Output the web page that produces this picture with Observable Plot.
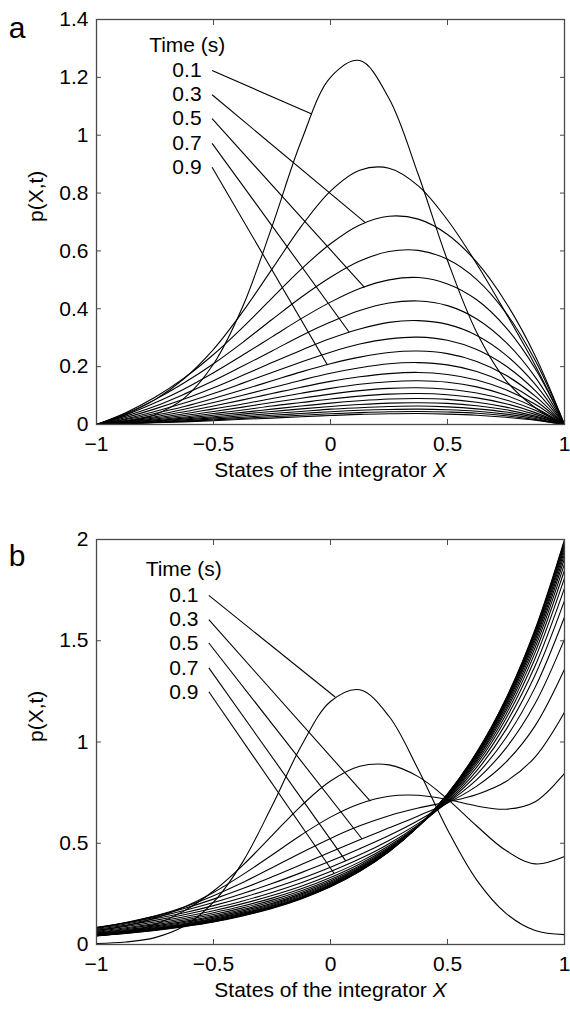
<!DOCTYPE html>
<html>
<head>
<meta charset="utf-8">
<script src="https://cdn.jsdelivr.net/npm/d3@7"></script>
<script src="https://cdn.jsdelivr.net/npm/@observablehq/plot@0.6"></script>
<style>
  html, body { margin: 0; padding: 0; background: #fff; }
  #chart { width: 570px; }
  #chart svg { display: block; }
</style>
</head>
<body>
<div id="chart"></div>
<script>
// States of the integrator X at which each density curve is sampled
const xs = [-1, -0.875, -0.75, -0.625, -0.5, -0.375, -0.25, -0.125, 0,
            0.125, 0.25, 0.375, 0.5, 0.625, 0.75, 0.875, 1];

// Time (s) of each curve
const times = [0.1, 0.2, 0.3, 0.4, 0.5, 0.6, 0.7, 0.8, 0.9, 1.0,
               1.1, 1.2, 1.3, 1.4, 1.5, 1.6, 1.7, 1.8, 1.9, 2.0];

// Panel a: p(X,t), one row per time
const densityA = [
  [0, 0.010, 0.034, 0.091, 0.209, 0.408, 0.684, 0.980, 1.200, 1.258, 1.127, 0.864, 0.567, 0.318, 0.152, 0.058, 0],
  [0, 0.035, 0.086, 0.159, 0.260, 0.390, 0.537, 0.685, 0.807, 0.879, 0.886, 0.825, 0.707, 0.555, 0.384, 0.204, 0],
  [0, 0.041, 0.094, 0.161, 0.242, 0.336, 0.437, 0.537, 0.625, 0.690, 0.720, 0.710, 0.657, 0.561, 0.421, 0.237, 0],
  [0, 0.038, 0.086, 0.144, 0.210, 0.284, 0.363, 0.440, 0.509, 0.565, 0.598, 0.602, 0.571, 0.501, 0.386, 0.221, 0],
  [0, 0.033, 0.075, 0.123, 0.179, 0.240, 0.303, 0.366, 0.423, 0.470, 0.500, 0.508, 0.486, 0.431, 0.335, 0.193, 0],
  [0, 0.029, 0.063, 0.105, 0.151, 0.202, 0.254, 0.307, 0.354, 0.394, 0.420, 0.427, 0.411, 0.365, 0.284, 0.164, 0],
  [0, 0.024, 0.054, 0.088, 0.127, 0.170, 0.214, 0.257, 0.297, 0.330, 0.353, 0.359, 0.346, 0.308, 0.240, 0.139, 0],
  [0, 0.020, 0.045, 0.074, 0.107, 0.143, 0.180, 0.216, 0.250, 0.278, 0.296, 0.302, 0.291, 0.259, 0.202, 0.117, 0],
  [0, 0.017, 0.038, 0.062, 0.090, 0.120, 0.151, 0.182, 0.210, 0.233, 0.249, 0.254, 0.245, 0.218, 0.170, 0.098, 0],
  [0, 0.014, 0.032, 0.053, 0.076, 0.101, 0.127, 0.153, 0.177, 0.196, 0.210, 0.214, 0.206, 0.183, 0.143, 0.083, 0],
  [0, 0.012, 0.027, 0.044, 0.064, 0.085, 0.107, 0.129, 0.149, 0.165, 0.176, 0.180, 0.173, 0.154, 0.120, 0.070, 0],
  [0, 0.010, 0.023, 0.037, 0.054, 0.071, 0.090, 0.108, 0.125, 0.139, 0.148, 0.151, 0.146, 0.130, 0.101, 0.058, 0],
  [0, 0.009, 0.019, 0.031, 0.045, 0.060, 0.076, 0.091, 0.105, 0.117, 0.125, 0.127, 0.122, 0.109, 0.085, 0.049, 0],
  [0, 0.007, 0.016, 0.026, 0.038, 0.050, 0.064, 0.076, 0.088, 0.098, 0.105, 0.107, 0.103, 0.092, 0.072, 0.041, 0],
  [0, 0.006, 0.013, 0.022, 0.032, 0.042, 0.053, 0.064, 0.074, 0.082, 0.088, 0.090, 0.087, 0.077, 0.060, 0.035, 0],
  [0, 0.005, 0.011, 0.019, 0.027, 0.036, 0.045, 0.054, 0.062, 0.069, 0.074, 0.075, 0.073, 0.065, 0.051, 0.029, 0],
  [0, 0.004, 0.009, 0.016, 0.023, 0.030, 0.038, 0.045, 0.053, 0.058, 0.062, 0.064, 0.061, 0.054, 0.043, 0.025, 0],
  [0, 0.004, 0.008, 0.013, 0.019, 0.025, 0.032, 0.038, 0.044, 0.049, 0.052, 0.053, 0.051, 0.046, 0.036, 0.021, 0],
  [0, 0.003, 0.007, 0.011, 0.016, 0.021, 0.027, 0.032, 0.037, 0.041, 0.044, 0.045, 0.043, 0.039, 0.030, 0.017, 0],
  [0, 0.003, 0.006, 0.009, 0.013, 0.018, 0.022, 0.027, 0.031, 0.035, 0.037, 0.038, 0.036, 0.032, 0.025, 0.015, 0]
];

// Panel b: p(X,t), one row per time
const densityB = [
  [0.005, 0.012, 0.034, 0.091, 0.209, 0.408, 0.684, 0.980, 1.200, 1.258, 1.127, 0.864, 0.567, 0.318, 0.154, 0.069, 0.049],
  [0.042, 0.060, 0.099, 0.166, 0.264, 0.391, 0.538, 0.685, 0.807, 0.880, 0.887, 0.829, 0.718, 0.585, 0.464, 0.398, 0.434],
  [0.070, 0.093, 0.130, 0.185, 0.257, 0.345, 0.442, 0.541, 0.629, 0.695, 0.732, 0.737, 0.716, 0.684, 0.668, 0.705, 0.845],
  [0.082, 0.107, 0.140, 0.185, 0.241, 0.306, 0.379, 0.453, 0.524, 0.586, 0.636, 0.674, 0.704, 0.741, 0.805, 0.927, 1.147],
  [0.085, 0.109, 0.140, 0.178, 0.224, 0.276, 0.334, 0.395, 0.457, 0.517, 0.576, 0.635, 0.699, 0.782, 0.901, 1.081, 1.359],
  [0.083, 0.106, 0.134, 0.168, 0.207, 0.252, 0.301, 0.355, 0.412, 0.473, 0.538, 0.612, 0.700, 0.814, 0.970, 1.191, 1.508],
  [0.079, 0.101, 0.127, 0.157, 0.192, 0.232, 0.277, 0.326, 0.382, 0.443, 0.514, 0.598, 0.703, 0.839, 1.021, 1.271, 1.617],
  [0.075, 0.095, 0.119, 0.147, 0.179, 0.215, 0.257, 0.305, 0.360, 0.423, 0.498, 0.591, 0.708, 0.859, 1.061, 1.332, 1.698],
  [0.070, 0.089, 0.111, 0.137, 0.167, 0.202, 0.242, 0.288, 0.343, 0.408, 0.488, 0.587, 0.713, 0.876, 1.092, 1.378, 1.760],
  [0.065, 0.083, 0.104, 0.128, 0.157, 0.190, 0.229, 0.275, 0.331, 0.398, 0.480, 0.585, 0.718, 0.890, 1.116, 1.415, 1.809],
  [0.061, 0.078, 0.098, 0.121, 0.148, 0.181, 0.219, 0.265, 0.321, 0.389, 0.475, 0.583, 0.722, 0.902, 1.136, 1.444, 1.848],
  [0.058, 0.073, 0.092, 0.114, 0.141, 0.173, 0.211, 0.257, 0.313, 0.383, 0.471, 0.583, 0.726, 0.912, 1.153, 1.468, 1.880],
  [0.055, 0.069, 0.087, 0.109, 0.135, 0.166, 0.203, 0.250, 0.307, 0.378, 0.468, 0.583, 0.730, 0.920, 1.166, 1.487, 1.906],
  [0.052, 0.066, 0.083, 0.104, 0.129, 0.160, 0.198, 0.244, 0.302, 0.374, 0.466, 0.583, 0.733, 0.927, 1.178, 1.504, 1.927],
  [0.050, 0.063, 0.080, 0.100, 0.125, 0.155, 0.193, 0.239, 0.297, 0.371, 0.464, 0.583, 0.735, 0.932, 1.187, 1.517, 1.945],
  [0.048, 0.061, 0.077, 0.097, 0.121, 0.151, 0.189, 0.235, 0.294, 0.368, 0.462, 0.583, 0.738, 0.937, 1.195, 1.528, 1.960],
  [0.046, 0.059, 0.075, 0.094, 0.118, 0.148, 0.185, 0.232, 0.291, 0.366, 0.461, 0.583, 0.739, 0.941, 1.201, 1.538, 1.972],
  [0.045, 0.057, 0.073, 0.092, 0.115, 0.145, 0.182, 0.229, 0.288, 0.364, 0.460, 0.583, 0.741, 0.945, 1.207, 1.546, 1.983],
  [0.044, 0.056, 0.071, 0.090, 0.113, 0.143, 0.180, 0.227, 0.286, 0.362, 0.459, 0.583, 0.742, 0.947, 1.212, 1.552, 1.992],
  [0.043, 0.054, 0.069, 0.088, 0.111, 0.141, 0.178, 0.225, 0.285, 0.361, 0.458, 0.583, 0.744, 0.950, 1.215, 1.558, 1.999]
];

// Axis ticks
const xTicks = [-1, -0.5, 0, 0.5, 1];
const yTicksA = [0, 0.2, 0.4, 0.6, 0.8, 1, 1.2, 1.4];
const yTicksB = [0, 0.5, 1, 1.5, 2];

// Time labels and the points on their curves that the leader lines reach
const legendTitle = "Time (s)";
const legendTimes = ["0.1", "0.3", "0.5", "0.7", "0.9"];
const labelYA = [1.224, 1.140, 1.057, 0.972, 0.889];
const leaderEndXA = [-0.08, 0.15, 0.145, 0.08, -0.013];
const leaderEndYA = [1.073, 0.697, 0.474, 0.319, 0.206];
const labelYB = [1.724, 1.604, 1.489, 1.366, 1.248];
const leaderEndXB = [0.02, 0.17, 0.135, 0.065, 0.015];
const leaderEndYB = [1.222, 0.708, 0.521, 0.413, 0.352];

const X_TITLE = "States of the integrator X";
const FONT = "'Liberation Sans', Arial, Helvetica, sans-serif";
const FS = 21;
const fmt = d => (d < 0 ? "\u2212" + (-d) : String(d));

function panel({letter, rows, yDomain, yTicks, height, marginBottom, letterDy,
                titleY, labelX, labelY, leaderX, endX, endY, titleX}) {
  const table = times.flatMap((t, j) => xs.map((x, i) => ({t, x, p: rows[j][i]})));
  const legend = legendTimes.map((s, k) => ({
    s, y: labelY[k], x2: endX[k], y2: endY[k]
  }));
  const svg = Plot.plot({
    width: 570,
    height,
    marginTop: 19,
    marginRight: 6,
    marginBottom,
    marginLeft: 96,
    style: {fontFamily: FONT, fontSize: FS + "px", color: "#000", background: "#fff"},
    x: {domain: [-1, 1]},
    y: {domain: yDomain},
    marks: [
      Plot.line(table, {x: "x", y: "p", z: "t", curve: "catmull-rom",
                        stroke: "#000", strokeWidth: 1.1}),
      Plot.link(legend, {x1: leaderX, y1: "y", x2: "x2", y2: "y2",
                         stroke: "#000", strokeWidth: 1.1}),
      Plot.text(legend, {x: labelX, y: "y", text: "s", textAnchor: "end",
                         fontSize: FS, fill: "#000"}),
      Plot.text([legendTitle], {x: titleX, y: titleY, textAnchor: "start",
                                fontSize: FS, fill: "#000"}),
      Plot.frame({stroke: "#4a4a4a", strokeWidth: 1.3}),
      Plot.axisX(xTicks, {anchor: "bottom", tickSize: -5, tickPadding: 17,
                          tickFormat: fmt, label: null, stroke: "#4a4a4a", fill: "#000"}),
      Plot.axisX(xTicks, {anchor: "top", tickSize: -5, tickFormat: () => "",
                          label: null, stroke: "#4a4a4a"}),
      Plot.axisY(yTicks, {anchor: "left", tickSize: -5, tickPadding: 13,
                          tickFormat: fmt, label: null, stroke: "#4a4a4a", fill: "#000"}),
      Plot.axisY(yTicks, {anchor: "right", tickSize: -5, tickFormat: () => "",
                          label: null, stroke: "#4a4a4a"}),
      Plot.text([X_TITLE], {frameAnchor: "bottom", dy: 52, fontSize: FS, fill: "#000"}),
      Plot.text(["p(X,t)"], {frameAnchor: "left", dx: -60, rotate: -90,
                fontSize: FS, fill: "#000"}),
      Plot.text([letter], {frameAnchor: "top-left", dx: -79.5, dy: letterDy,
                textAnchor: "middle", fontSize: 30, fill: "#000"})
    ]
  });
  // italic X in the axis title
  d3.select(svg).selectAll("text")
    .filter(function () { return this.textContent === X_TITLE; })
    .each(function () {
      const t = d3.select(this);
      t.text(null);
      t.append("tspan").text("States of the integrator ");
      t.append("tspan").attr("font-style", "italic").text("X");
    });
  return svg;
}

const chart = document.getElementById("chart");
chart.append(panel({
  letter: "a", rows: densityA, yDomain: [0, 1.4], yTicks: yTicksA,
  height: 520, marginBottom: 96, letterDy: -3,
  titleX: -0.775, titleY: 1.31, labelX: -0.551, labelY: labelYA,
  leaderX: -0.506, endX: leaderEndXA, endY: leaderEndYA
}));
chart.append(panel({
  letter: "b", rows: densityB, yDomain: [0, 2], yTicks: yTicksB,
  height: 490, marginBottom: 66, letterDy: 5,
  titleX: -0.79, titleY: 1.851, labelX: -0.564, labelY: labelYB,
  leaderX: -0.52, endX: leaderEndXB, endY: leaderEndYB
}));
</script>
</body>
</html>
